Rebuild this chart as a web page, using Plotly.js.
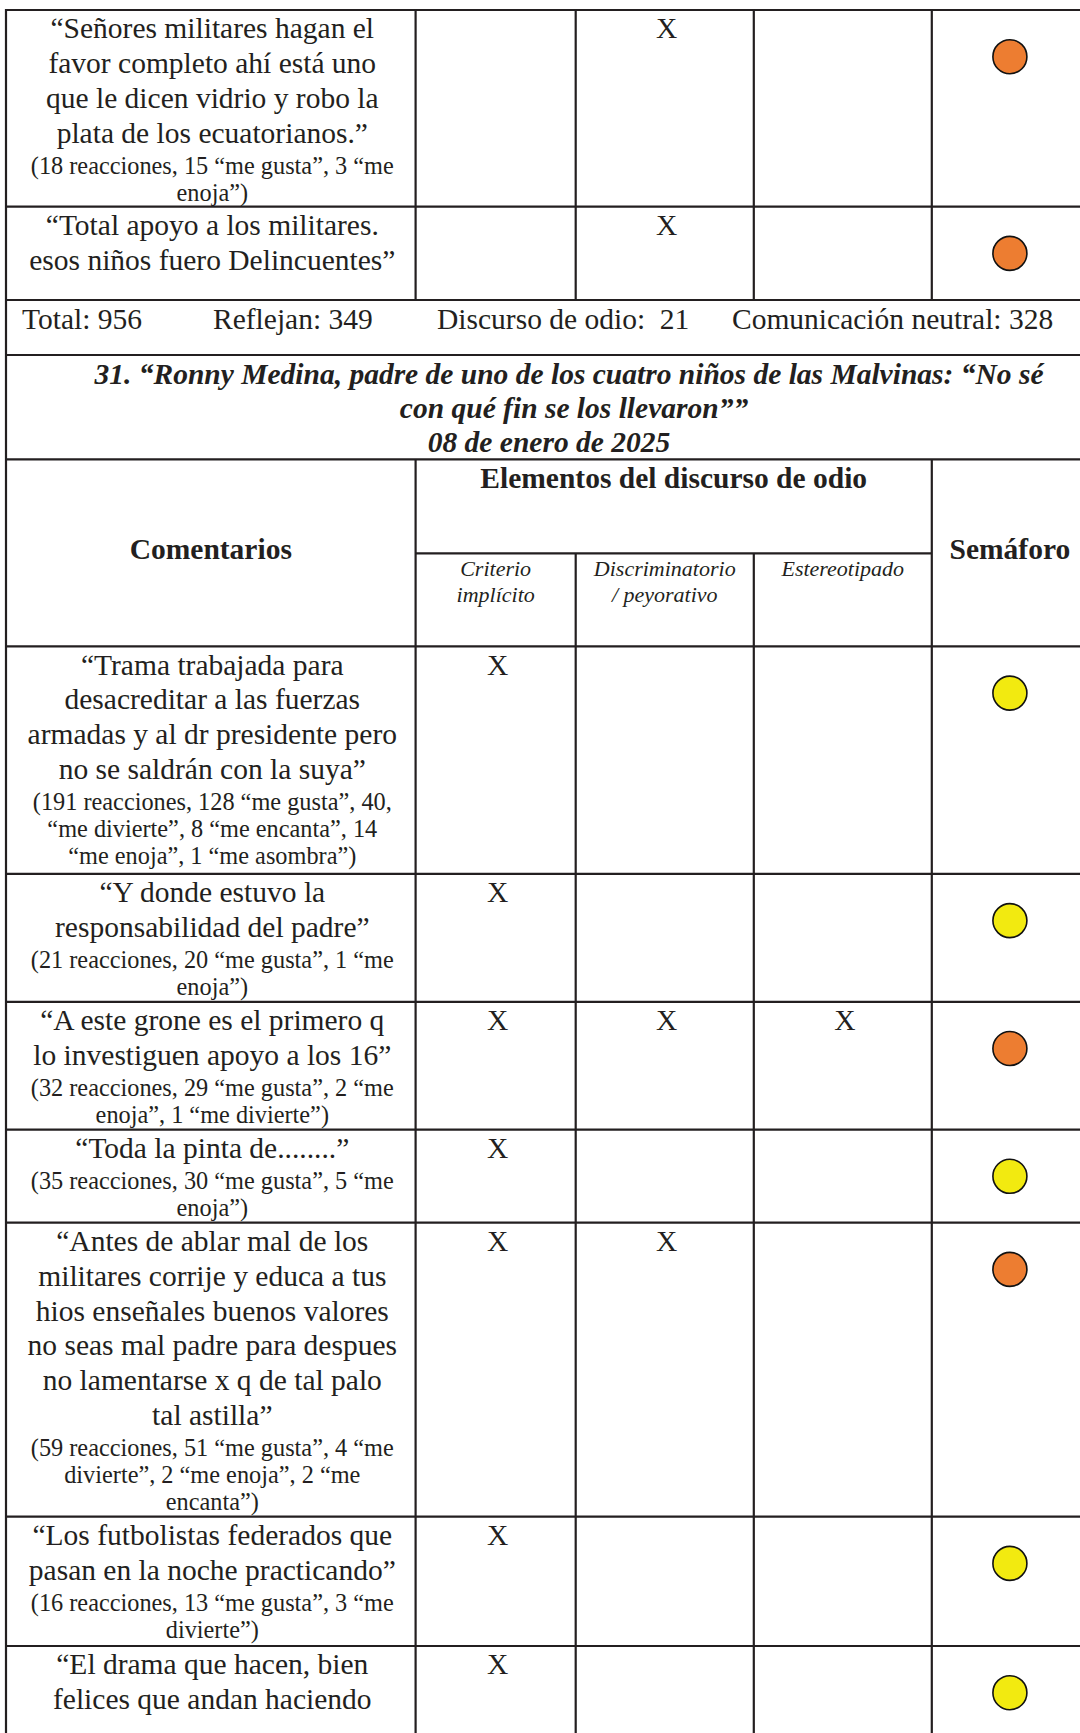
<!DOCTYPE html>
<html>
<head>
<meta charset="utf-8">
<script src="https://cdn.plot.ly/plotly-3.0.1.min.js"></script>
<style>
  html, body { margin: 0; padding: 0; background: #ffffff; }
  #chart { width: 1080px; height: 1733px; }
</style>
</head>
<body>
<div id="chart"></div>
<script>
// ================= DATA =================
// End of the previous item (30): last two comments
const prevComments = [
  ["“Señores militares hagan el", "favor completo ahí está uno", "que le dicen vidrio y robo la", "plata de los ecuatorianos.”"],
  ["“Total apoyo a los militares.", "esos niños fuero Delincuentes”"]
];
const prevReactions = [
  ["(18 reacciones, 15 “me gusta”, 3 “me", "enoja”)"],
  []
];
// [criterio implícito, discriminatorio / peyorativo, estereotipado]
const prevMarks = [[0, 1, 0], [0, 1, 0]];
const prevSemaforo = ["naranja", "naranja"];

// Totals of item 30
const totalLabels = ["Total:", "Reflejan:", "Discurso de odio: ", "Comunicación neutral:"];
const totalValues = [956, 349, 21, 328];

// Item 31
const sectionTitle = [
  "31. “Ronny Medina, padre de uno de los cuatro niños de las Malvinas: “No sé",
  "con qué fin se los llevaron””",
  "08 de enero de 2025"
];
const headerComments = "Comentarios";
const headerGroup = "Elementos del discurso de odio";
const headerSemaforo = "Semáforo";
const criteriaLabels = [["Criterio", "implícito"], ["Discriminatorio", "/ peyorativo"], ["Estereotipado"]];

const comments = [
  ["“Trama trabajada para", "desacreditar a las fuerzas", "armadas y al dr presidente pero", "no se saldrán con la suya”"],
  ["“Y donde estuvo la", "responsabilidad del padre”"],
  ["“A este grone es el primero q", "lo investiguen apoyo a los 16”"],
  ["“Toda la pinta de........”"],
  ["“Antes de ablar mal de los", "militares corrije y educa a tus", "hios enseñales buenos valores", "no seas mal padre para despues", "no lamentarse x q de tal palo", "tal astilla”"],
  ["“Los futbolistas federados que", "pasan en la noche practicando”"],
  ["“El drama que hacen, bien", "felices que andan haciendo"]
];
const reactions = [
  ["(191 reacciones, 128 “me gusta”, 40,", "“me divierte”, 8 “me encanta”, 14", "“me enoja”, 1 “me asombra”)"],
  ["(21 reacciones, 20 “me gusta”, 1 “me", "enoja”)"],
  ["(32 reacciones, 29 “me gusta”, 2 “me", "enoja”, 1 “me divierte”)"],
  ["(35 reacciones, 30 “me gusta”, 5 “me", "enoja”)"],
  ["(59 reacciones, 51 “me gusta”, 4 “me", "divierte”, 2 “me enoja”, 2 “me", "encanta”)"],
  ["(16 reacciones, 13 “me gusta”, 3 “me", "divierte”)"],
  []
];
const marks = [[1, 0, 0], [1, 0, 0], [1, 1, 1], [1, 0, 0], [1, 1, 0], [1, 0, 0], [1, 0, 0]];
const semaforo = ["amarillo", "amarillo", "naranja", "amarillo", "naranja", "amarillo", "amarillo"];

// ================= STYLE / LAYOUT =================
const semaforoColors = { naranja: "#ED7D31", amarillo: "#F2EA10" };
const INK = "#231f20";
const SERIF = "Liberation Serif, Times New Roman, serif";
const FS_MAIN = 29.5, FS_REACT = 24.3, FS_SUB = 22;
const W = 1080, H = 1733;

const X_LEFT = 6, X_RIGHT = 1092;
const X_COLS = [415.6, 575.7, 753.8, 931.8];
const prevRowTops = [10, 206.7];
const prevEnd = 300;
const totalsBottom = 355;
const titleBottom = 459.3;
const subHeaderY = 553.3;
const headerBottom = 646.4;
const rowTops = [646.4, 873.9, 1001.8, 1129.6, 1222.7, 1516.7, 1646];

const FIRST_BASE = 28.3, LINE_MAIN = 34.8, GAP_REACT = 31, LINE_REACT = 27, CIRCLE_OFF = 46.7;

const commentX = (X_LEFT + X_COLS[0]) / 2 + 1.5;
const markX = [0, 1, 2].map(i => (X_COLS[i] + X_COLS[i + 1]) / 2 + 2);
const subX = [0, 1, 2].map(i => (X_COLS[i] + X_COLS[i + 1]) / 2);
const groupX = (X_COLS[0] + X_COLS[3]) / 2;
const semX = (X_COLS[3] + X_RIGHT) / 2 - 2;

function textBucket() { return { x: [], y: [], text: [] }; }
// scatter text with 'middle *' position puts baseline at y + 0.25*fontSize
function put(b, x, baseline, txt, fs) { b.x.push(x); b.y.push(baseline - 0.25 * fs); b.text.push(txt); }

const tComments = textBucket(), tReact = textBucket(), tMarks = textBucket();
const tTotals = textBucket(), tTitle = textBucket(), tHead = textBucket(), tSub = textBucket();
const circ = { x: [], y: [], color: [] };

function addRow(top, cLines, rLines, mk, sem) {
  let base = top + FIRST_BASE;
  cLines.forEach((ln, i) => { put(tComments, commentX, base + i * LINE_MAIN, ln, FS_MAIN); });
  let last = base + (cLines.length - 1) * LINE_MAIN;
  rLines.forEach((ln, j) => { put(tReact, commentX, last + GAP_REACT + j * LINE_REACT, ln, FS_REACT); });
  mk.forEach((m, k) => { if (m) put(tMarks, markX[k], base, "X", FS_MAIN); });
  circ.x.push(semX); circ.y.push(top + CIRCLE_OFF); circ.color.push(semaforoColors[sem]);
}

prevComments.forEach((c, i) => addRow(prevRowTops[i], c, prevReactions[i], prevMarks[i], prevSemaforo[i]));
comments.forEach((c, i) => addRow(rowTops[i], c, reactions[i], marks[i], semaforo[i]));

// totals row
const totalsX = [22, 213, 437, 732];
totalLabels.forEach((lab, i) => put(tTotals, totalsX[i], 328.5, lab + " " + totalValues[i], FS_MAIN));

// title
const titleX = [569, 574, 549];
const titleBase = [383.5, 418, 452];
sectionTitle.forEach((t, i) => put(tTitle, titleX[i], titleBase[i], t, FS_MAIN));

// headers
put(tHead, commentX - 1.5, 558.5, headerComments, FS_MAIN);
put(tHead, groupX, 488, headerGroup, FS_MAIN);
put(tHead, semX, 558.5, headerSemaforo, FS_MAIN);
criteriaLabels.forEach((lines, i) => lines.forEach((ln, j) => put(tSub, subX[i], 576 + j * 25.5, ln, FS_SUB)));

function textTrace(b, fs, pos, extra) {
  return Object.assign({
    type: "scatter", mode: "text", x: b.x, y: b.y, text: b.text,
    textposition: pos,
    textfont: Object.assign({ family: SERIF, size: fs, color: INK }, extra || {}),
    hoverinfo: "skip", showlegend: false, cliponaxis: false
  });
}

const traces = [
  textTrace(tComments, FS_MAIN, "middle center"),
  textTrace(tReact, FS_REACT, "middle center"),
  textTrace(tMarks, FS_MAIN, "middle center"),
  textTrace(tTotals, FS_MAIN, "middle right"),
  textTrace(tTitle, FS_MAIN, "middle center", { weight: "bold", style: "italic" }),
  textTrace(tHead, FS_MAIN, "middle center", { weight: "bold" }),
  textTrace(tSub, FS_SUB, "middle center", { style: "italic" }),
  {
    type: "scatter", mode: "markers", x: circ.x, y: circ.y,
    marker: { size: 34, color: circ.color, line: { color: "#111111", width: 1.6 } },
    hoverinfo: "skip", showlegend: false, cliponaxis: false
  }
];

// grid lines
const shapes = [];
const LW = 2.2;
function hLine(y, x0, x1) { shapes.push({ type: "line", xref: "x", yref: "y", x0: x0, x1: x1, y0: y, y1: y, line: { color: INK, width: LW }, layer: "below" }); }
function vLine(x, y0, y1) { shapes.push({ type: "line", xref: "x", yref: "y", x0: x, x1: x, y0: y0, y1: y1, line: { color: INK, width: LW }, layer: "below" }); }

hLine(prevRowTops[0], X_LEFT - 1, X_RIGHT);
prevRowTops.slice(1).forEach(y => hLine(y, X_LEFT - 1, X_RIGHT));
hLine(prevEnd, X_LEFT - 1, X_RIGHT);
hLine(totalsBottom, X_LEFT - 1, X_RIGHT);
hLine(titleBottom, X_LEFT - 1, X_RIGHT);
hLine(subHeaderY, X_COLS[0], X_COLS[3]);
hLine(headerBottom, X_LEFT - 1, X_RIGHT);
rowTops.slice(1).forEach(y => hLine(y, X_LEFT - 1, X_RIGHT));

vLine(X_LEFT, prevRowTops[0] - 1, H + 5);
X_COLS.forEach(x => vLine(x, prevRowTops[0] - 1, prevEnd));
vLine(X_COLS[0], titleBottom, H + 5);
vLine(X_COLS[3], titleBottom, H + 5);
vLine(X_COLS[1], subHeaderY, H + 5);
vLine(X_COLS[2], subHeaderY, H + 5);

const layout = {
  width: W, height: H, autosize: false,
  margin: { l: 0, r: 0, t: 0, b: 0, pad: 0 },
  paper_bgcolor: "#ffffff", plot_bgcolor: "#ffffff",
  xaxis: { range: [0, W], visible: false, fixedrange: true },
  yaxis: { range: [H, 0], visible: false, fixedrange: true },
  shapes: shapes,
  showlegend: false
};

Plotly.newPlot("chart", traces, layout, { staticPlot: true, displayModeBar: false });
</script>
</body>
</html>
